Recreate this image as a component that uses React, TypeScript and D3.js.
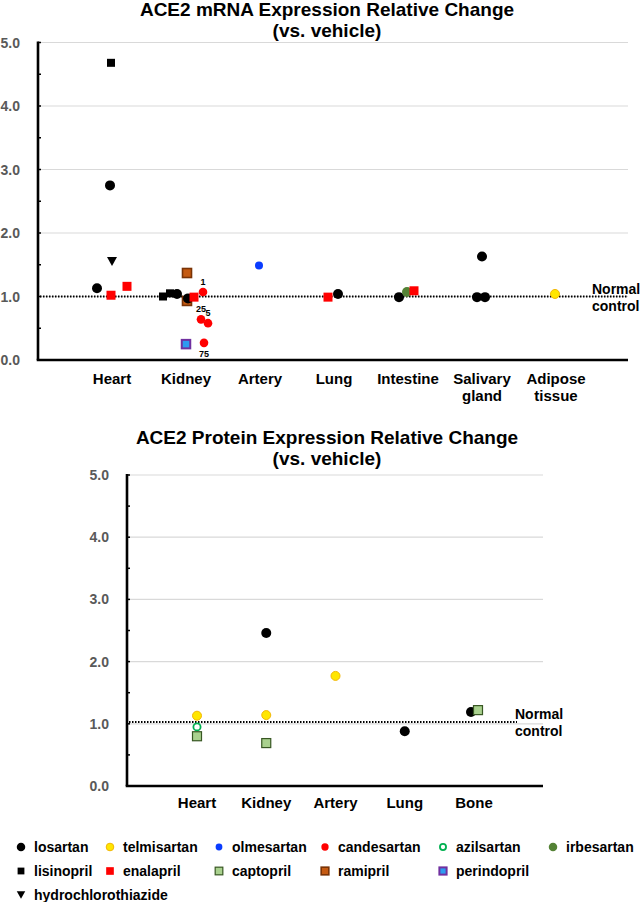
import React from "react";
import * as d3 from "d3";

// ---------- data ----------
const mrnaTissues = ["Heart", "Kidney", "Artery", "Lung", "Intestine", "Salivary gland", "Adipose tissue"];
const mrnaDrug = [
  "lisinopril", "losartan", "hydrochlorothiazide", "losartan", "enalapril", "enalapril",
  "lisinopril", "lisinopril", "ramipril", "ramipril", "losartan", "losartan", "enalapril",
  "candesartan", "candesartan", "candesartan", "candesartan", "perindopril",
  "olmesartan",
  "enalapril", "losartan",
  "losartan", "irbesartan", "enalapril",
  "losartan", "losartan", "losartan",
  "telmisartan",
];
const mrnaTissue = [
  "Heart", "Heart", "Heart", "Heart", "Heart", "Heart",
  "Kidney", "Kidney", "Kidney", "Kidney", "Kidney", "Kidney", "Kidney",
  "Kidney", "Kidney", "Kidney", "Kidney", "Kidney",
  "Artery",
  "Lung", "Lung",
  "Intestine", "Intestine", "Intestine",
  "Salivary gland", "Salivary gland", "Salivary gland",
  "Adipose tissue",
];
const mrnaValue = [
  4.68, 2.75, 1.55, 1.13, 1.02, 1.16,
  1.0, 1.05, 1.37, 0.93, 1.04, 0.97, 0.99,
  1.07, 0.64, 0.58, 0.27, 0.25,
  1.49,
  0.99, 1.04,
  0.99, 1.07, 1.09,
  1.63, 0.99, 0.99,
  1.04,
];
const mrnaJitter = [
  -0.04, -0.08, 0, -0.6, -0.04, 0.6,
  -0.92, -0.64, 0.04, 0.04, -0.36, 0.08, 0.32,
  0.68, 0.6, 0.88, 0.72, 0,
  -0.04,
  -0.24, 0.16,
  -0.36, -0.04, 0.24,
  0, -0.2, 0.12,
  -0.04,
];
const mrnaDose = [
  "", "", "", "", "", "",
  "", "", "", "", "", "", "",
  "1", "25", "5", "75", "",
  "", "", "", "", "", "", "", "", "", "",
];
const mrnaDoseSide = [
  "", "", "", "", "", "",
  "", "", "", "", "", "", "",
  "above", "above", "above", "below", "",
  "", "", "", "", "", "", "", "", "", "",
];

const proteinTissues = ["Heart", "Kidney", "Artery", "Lung", "Bone"];
const proteinDrug = [
  "telmisartan", "azilsartan", "captopril",
  "losartan", "telmisartan", "captopril",
  "telmisartan",
  "losartan",
  "losartan", "captopril",
];
const proteinTissue = [
  "Heart", "Heart", "Heart",
  "Kidney", "Kidney", "Kidney",
  "Artery",
  "Lung",
  "Bone", "Bone",
];
const proteinValue = [1.13, 0.95, 0.8, 2.46, 1.14, 0.69, 1.77, 0.88, 1.19, 1.22];
const proteinJitter = [0, 0, 0, 0, 0, 0, 0, 0, -0.12, 0.16];

const yTicks = [0, 1, 2, 3, 4, 5];
const yMinorTicks = [0.5, 1.5, 2.5, 3.5, 4.5];
const normalLevelMrna = 1.0;
const normalLevelProtein = 1.03;

const legendRow1 = ["losartan", "telmisartan", "olmesartan", "candesartan", "azilsartan", "irbesartan"];
const legendRow2 = ["lisinopril", "enalapril", "captopril", "ramipril", "perindopril"];
const legendRow3 = ["hydrochlorothiazide"];

// ---------- styles ----------
const FONT = "'Liberation Sans', Arial, Helvetica, sans-serif";
type MStyle = { shape: string; fill: string; stroke?: string; sw?: number; r?: number; s?: number };
const markerStyle: Record<string, MStyle> = {
  losartan: { shape: "circle", fill: "#000000", r: 5 },
  telmisartan: { shape: "circle", fill: "#ffe600", stroke: "#f2b705", sw: 1, r: 4.5 },
  olmesartan: { shape: "circle", fill: "#0a3cff", r: 4 },
  candesartan: { shape: "circle", fill: "#ff0000", r: 4.3 },
  azilsartan: { shape: "circle", fill: "#ffffff", stroke: "#00b050", sw: 1.8, r: 3.6 },
  irbesartan: { shape: "circle", fill: "#548235", r: 5 },
  lisinopril: { shape: "square", fill: "#000000", s: 8 },
  enalapril: { shape: "square", fill: "#ff0000", s: 9 },
  captopril: { shape: "square", fill: "#a9d18e", stroke: "#385723", sw: 1.2, s: 9 },
  ramipril: { shape: "square", fill: "#c55a11", stroke: "#7a3306", sw: 1.6, s: 9 },
  perindopril: { shape: "square", fill: "#2e9bf0", stroke: "#7030a0", sw: 2, s: 8.5 },
  hydrochlorothiazide: { shape: "triangle", fill: "#000000", s: 10 },
};

function Marker({ drug, x, y, scale = 1 }: { drug: string; x: number; y: number; scale?: number }) {
  const st = markerStyle[drug];
  if (st.shape === "circle") {
    return <circle cx={x} cy={y} r={(st.r || 4) * scale} fill={st.fill} stroke={st.stroke || "none"} strokeWidth={st.sw || 0} />;
  }
  if (st.shape === "square") {
    const s = (st.s || 8) * scale;
    return <rect x={x - s / 2} y={y - s / 2} width={s} height={s} fill={st.fill} stroke={st.stroke || "none"} strokeWidth={st.sw || 0} />;
  }
  const s = (st.s || 10) * scale;
  const h = s * 0.9;
  return <path d={`M${x - s / 2},${y - h / 2}L${x + s / 2},${y - h / 2}L${x},${y + h / 2}Z`} fill={st.fill} />;
}

type PanelProps = {
  title1: string;
  title2: string;
  tissues: string[];
  drugs: string[];
  tissueOf: string[];
  values: number[];
  jitter: number[];
  dose?: string[];
  doseSide?: string[];
  axisX: number;
  axisRight: number;
  yTop: number;
  yBottom: number;
  xFirst: number;
  xLast: number;
  titleY: number;
  normal: number;
  dotEnd: number;
  normalX: number;
  labelGap: number;
};

function Panel(p: PanelProps) {
  const y = d3.scaleLinear().domain([0, 5]).range([p.yBottom, p.yTop]);
  const x = d3.scalePoint<string>().domain(p.tissues).range([p.xFirst, p.xLast]);
  const xj = d3.scaleLinear().domain([-1, 1]).range([-25, 25]);
  const cx = 327;
  return (
    <g>
      <text x={cx} y={p.titleY} textAnchor="middle" fontFamily={FONT} fontWeight="bold" fontSize={19} fill="#000">{p.title1}</text>
      <text x={cx} y={p.titleY + 21} textAnchor="middle" fontFamily={FONT} fontWeight="bold" fontSize={19} fill="#000">{p.title2}</text>
      {yTicks.filter((t) => t > 0).map((t) => (
        <line key={"g" + t} x1={p.axisX} x2={p.axisRight} y1={y(t)} y2={y(t)} stroke="#d9d9d9" strokeWidth={1.2} />
      ))}
      {yTicks.map((t) => (
        <text key={"yt" + t} x={p.axisX - 18} y={y(t) + 5} textAnchor="end" fontFamily={FONT} fontWeight="bold" fontSize={14} fill="#595959">{t.toFixed(1)}</text>
      ))}
      <line x1={p.axisX} x2={p.axisX} y1={y(5) - 1} y2={y(0)} stroke="#000" strokeWidth={2.6} />
      {yTicks.concat(yMinorTicks).map((t) => (
        <line key={"tk" + t} x1={p.axisX} x2={p.axisX + 3} y1={y(t)} y2={y(t)} stroke="#000" strokeWidth={1.5} />
      ))}
      <line x1={p.axisX - 1.3} x2={p.axisRight} y1={y(0)} y2={y(0)} stroke="#000" strokeWidth={2.6} />
      <line x1={p.axisX + 2} x2={p.dotEnd} y1={y(p.normal)} y2={y(p.normal)} stroke="#000" strokeWidth={2} strokeDasharray="1.5 1.5" />
      <text x={p.normalX} y={y(p.normal) - 3} fontFamily={FONT} fontWeight="bold" fontSize={14} fill="#000">Normal</text>
      <text x={p.normalX} y={y(p.normal) + 14} fontFamily={FONT} fontWeight="bold" fontSize={14} fill="#000">control</text>
      {p.tissues.map((t) => {
        const parts = t.split(" ");
        return (
          <text key={"xl" + t} x={x(t)} y={y(0) + p.labelGap} textAnchor="middle" fontFamily={FONT} fontWeight="bold" fontSize={15} fill="#000">
            {parts.map((w, i) => (
              <tspan key={i} x={x(t)} dy={i === 0 ? 0 : 17}>{w}</tspan>
            ))}
          </text>
        );
      })}
      {p.values.map((v, i) => (
        <Marker key={"m" + i} drug={p.drugs[i]} x={(x(p.tissueOf[i]) as number) + xj(p.jitter[i])} y={y(v)} />
      ))}
      {p.dose && p.dose.map((d, i) =>
        d ? (
          <text key={"d" + i} x={(x(p.tissueOf[i]) as number) + xj(p.jitter[i])} y={y(p.values[i]) + (p.doseSide && p.doseSide[i] === "below" ? 14 : -7)} textAnchor="middle" fontFamily={FONT} fontWeight="bold" fontSize={9} fill="#000">{d}</text>
        ) : null
      )}
    </g>
  );
}

const legendCols = [21, 110, 219, 325, 443, 553];
const legendTextOffset = 13;

export default function App() {
  const rows = [legendRow1, legendRow2, legendRow3];
  const rowY = [847, 871, 895];
  return (
    <svg width={640} height={902} style={{ position: "absolute", left: 0, top: 0, background: "#fff" }}>
      <rect width={640} height={902} fill="#fff" />
      <Panel
        title1="ACE2 mRNA Expression Relative Change"
        title2="(vs. vehicle)"
        tissues={mrnaTissues}
        drugs={mrnaDrug}
        tissueOf={mrnaTissue}
        values={mrnaValue}
        jitter={mrnaJitter}
        dose={mrnaDose}
        doseSide={mrnaDoseSide}
        axisX={38}
        axisRight={628}
        yTop={42.5}
        yBottom={360}
        xFirst={112}
        xLast={556}
        titleY={16}
        normal={normalLevelMrna}
        dotEnd={627}
        normalX={592}
        labelGap={24}
      />
      <Panel
        title1="ACE2 Protein Expression Relative Change"
        title2="(vs. vehicle)"
        tissues={proteinTissues}
        drugs={proteinDrug}
        tissueOf={proteinTissue}
        values={proteinValue}
        jitter={proteinJitter}
        axisX={127}
        axisRight={543}
        yTop={475}
        yBottom={786}
        xFirst={197}
        xLast={474}
        titleY={444}
        normal={normalLevelProtein}
        dotEnd={517}
        normalX={515}
        labelGap={22}
      />
      {rows.map((row, ri) =>
        row.map((drug, ci) => (
          <g key={drug}>
            <Marker drug={drug} x={legendCols[ci]} y={rowY[ri]} scale={0.85} />
            <text x={legendCols[ci] + legendTextOffset} y={rowY[ri] + 5} fontFamily={FONT} fontWeight="bold" fontSize={14} fill="#000">{drug}</text>
          </g>
        ))
      )}
    </svg>
  );
}
